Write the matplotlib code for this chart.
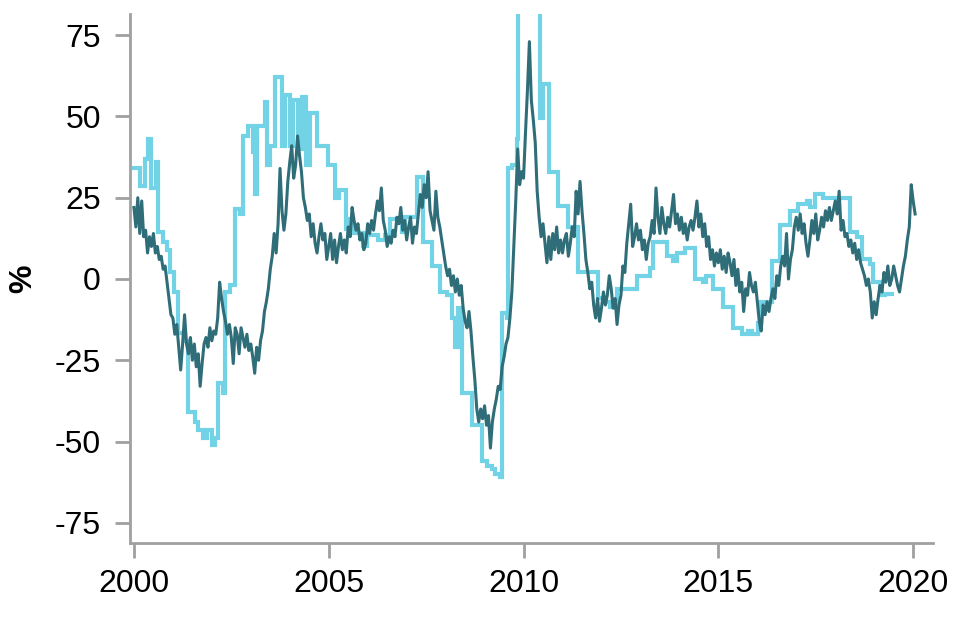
import numpy as np
import matplotlib
matplotlib.use("Agg")
from matplotlib import pyplot as plt

# dark series: every 0.05 year from 2000.00 to 2020.05
dark_start = 2000.0
dark_step = 0.05
dark_vals = [
    # 2000
    22, 16, 25, 14, 24, 13, 15, 8, 13, 10, 14, 8, 10, 6, 7, 3, 4, -1, -6, -11,
    # 2001
    -12, -17, -14, -21, -28, -20, -11, -20, -23, -18, -25, -20, -27, -23, -33, -26, -20, -18, -21, -15,
    # 2002
    -19, -16, -17, -12, -1, -6, -10, -13, -17, -14, -18, -26, -15, -17, -23, -15, -18, -21, -17, -22,
    # 2003
    -20, -24, -29, -21, -25, -19, -16, -10, -7, -3, 3, 7, 14, 8, 17, 34, 21, 15, 20, 30,
    # 2004
    36, 41, 31, 35, 44, 38, 33, 25, 22, 18, 20, 13, 17, 11, 8, 13, 17, 12, 14, 6,
    # 2005
    10, 14, 6, 12, 5, 10, 14, 9, 12, 8, 16, 13, 22, 18, 15, 17, 12, 14, 9, 11,
    # 2006
    17, 14, 18, 15, 20, 24, 21, 28, 18, 15, 10, 13, 11, 15, 13, 19, 17, 22, 15, 18,
    # 2007
    12, 16, 19, 11, 16, 14, 20, 26, 22, 29, 25, 33, 21, 18, 15, 27, 19, 16, 12, 8,
    # 2008
    4, 1, 3, -2, 1, -4, 0, -5, -2, -9, -13, -15, -10, -16, -24, -31, -40, -44, -40, -43,
    # 2009
    -39, -45, -42, -52, -44, -40, -37, -33, -34, -27, -24, -20, -18, -12, -4, 10, 24, 40, 29, 33,
    # 2010
    31, 45, 58, 73, 55, 49, 42, 27, 19, 13, 17, 11, 5, 13, 6, 14, 9, 16, 8, 12,
    # 2011
    8, 12, 14, 7, 11, 16, 13, 27, 20, 30, 21, 14, 6, 2, -3, -1, -8, -12, -6, -13,
    # 2012
    -9, -4, -8, -5, 1, -3, -9, -6, -14, -8, -5, 4, 2, 11, 17, 23, 10, 13, 17, 12,
    # 2013
    15, 9, 12, 6, 11, 13, 18, 14, 28, 19, 14, 22, 17, 14, 19, 16, 21, 26, 17, 20,
    # 2014
    15, 19, 14, 17, 12, 16, 18, 15, 19, 24, 16, 20, 13, 17, 10, 13, 6, 9, 4, 8,
    # 2015
    5, 9, 3, 7, 2, 8, 5, 1, 6, -2, 3, -4, -1, -10, -3, -5, 2, -2, -4, -1,
    # 2016
    -7, -13, -16, -8, -11, -7, -10, -6, -3, -6, 1, -2, 4, 7, 4, 14, 0, 6, 9, 16,
    # 2017
    19, 15, 20, 14, 17, 11, 7, 12, 18, 14, 20, 12, 15, 19, 16, 21, 18, 22, 18, 21,
    # 2018
    24, 20, 27, 15, 18, 13, 14, 10, 12, 8, 11, 6, 9, 5, 3, 1, -2, 0, -4, -12,
    # 2019
    -7, -11, -6, -2, -4, 2, -1, 4, -2, 0, 4, 1, -2, -4, 0, 4, 7, 12, 16, 29,
    # 2020
    24, 20,
]

# light series: step changes (decimal year, level)
light_dates = [
    2000.00, 2000.15, 2000.28, 2000.36, 2000.44, 2000.56, 2000.62, 2000.74, 2000.85, 2000.92,
    2001.03, 2001.13, 2001.31, 2001.39, 2001.57, 2001.64, 2001.77, 2001.87, 2002.00, 2002.08,
    2002.16, 2002.28, 2002.34, 2002.46, 2002.59, 2002.72, 2002.80, 2002.93, 2003.06, 2003.11,
    2003.16, 2003.36, 2003.41, 2003.49, 2003.62, 2003.80, 2003.88, 2004.01, 2004.08, 2004.21,
    2004.31, 2004.42, 2004.52, 2004.70, 2004.98, 2005.16, 2005.26, 2005.44, 2005.52, 2005.62,
    2005.88, 2005.98, 2006.26, 2006.44, 2006.57, 2006.88, 2006.96, 2007.27, 2007.42, 2007.65,
    2007.86, 2008.04, 2008.16, 2008.24, 2008.32, 2008.42, 2008.68, 2008.93, 2009.06, 2009.19,
    2009.27, 2009.40, 2009.45, 2009.58, 2009.60, 2009.70, 2009.83, 2009.86, 2010.42, 2010.50,
    2010.65, 2010.89, 2011.14, 2011.40, 2011.91, 2012.09, 2012.22, 2012.40, 2012.91, 2013.25,
    2013.32, 2013.68, 2013.84, 2013.94, 2014.15, 2014.40, 2014.61, 2014.69, 2014.87, 2015.12,
    2015.38, 2015.61, 2015.76, 2015.87, 2016.02, 2016.07, 2016.38, 2016.59, 2016.84, 2017.05,
    2017.28, 2017.36, 2017.48, 2017.69, 2018.38, 2018.56, 2018.69, 2018.90, 2018.97, 2019.15,
    2019.28, 2019.45,
]
light_vals = [
    34, 28.5, 37, 43, 28, 36, 14.5, 11.5, 9, 2,
    -4, -16.5, -19, -41, -44, -46.5, -49, -46.5, -51, -49,
    -32, -35, -4, -2, 21.5, 20, 44, 47, 39, 26,
    47, 54.5, 35, 41, 62, 41, 56.5, 41, 55, 40,
    56, 35, 51, 41, 35, 25, 27.5, 15.5, 18.5, 14,
    10, 13.5, 12, 13.5, 18.5, 14.5, 19, 31.5, 11.5, 4,
    -4, -5, -12, -21, -9, -35, -45, -56, -57.5, -58.5,
    -60, -61, -10.5, -12, 34, 35, 43, 100, 49.5, 60,
    33, 22.5, 16, 2, -6, -7, -8.5, -3, 1, 3.5,
    11.5, 7, 5.5, 8, 9.5, 0, -1, 1, -3, -8.5,
    -15, -17, -16, -17, -13.5, -7, 5.5, 16.5, 21, 23,
    24, 22, 26, 25, 14.5, 13, 6, 4.5, -1, -5,
    -4.5, -4.5,
]

x_ticks = [2000, 2005, 2010, 2015, 2020]
y_ticks = [-75, -50, -25, 0, 25, 50, 75]

light_color = "#72D2E6"
dark_color = "#2F6E78"
axis_color = "#A0A0A0"

plt.rcParams['font.family'] = ['Liberation Sans', 'DejaVu Sans']

dark_x = dark_start + dark_step * np.arange(len(dark_vals))

fig = plt.figure(figsize=(9.61, 6.18), dpi=100)
ax = fig.add_axes([0.1353, 0.1214, 0.8356, 0.8559])

ax.plot(light_dates, light_vals, color=light_color, lw=3.0, drawstyle="steps-post",
        solid_joinstyle="miter", zorder=2)
ax.plot(dark_x, dark_vals, color=dark_color, lw=2.2, zorder=3)

ax.set_xlim(1999.9, 2020.51)
ax.set_ylim(-81.2, 81.5)
ax.set_xticks(x_ticks)
ax.set_yticks(y_ticks)
ax.set_xticklabels([str(t) for t in x_ticks])
ax.set_yticklabels([str(t) for t in y_ticks])

for side in ["top", "right"]:
    ax.spines[side].set_visible(False)
for side in ["left", "bottom"]:
    ax.spines[side].set_color(axis_color)
    ax.spines[side].set_linewidth(2)

ax.tick_params(axis="both", colors=axis_color, width=2, length=11, labelsize=23,
               labelcolor="black", direction="out")
ax.tick_params(axis="x", pad=8)
ax.tick_params(axis="y", pad=10)
ax.set_ylabel("%", fontsize=23, fontweight="bold", labelpad=12)

fig.savefig("out.png", dpi=100)
